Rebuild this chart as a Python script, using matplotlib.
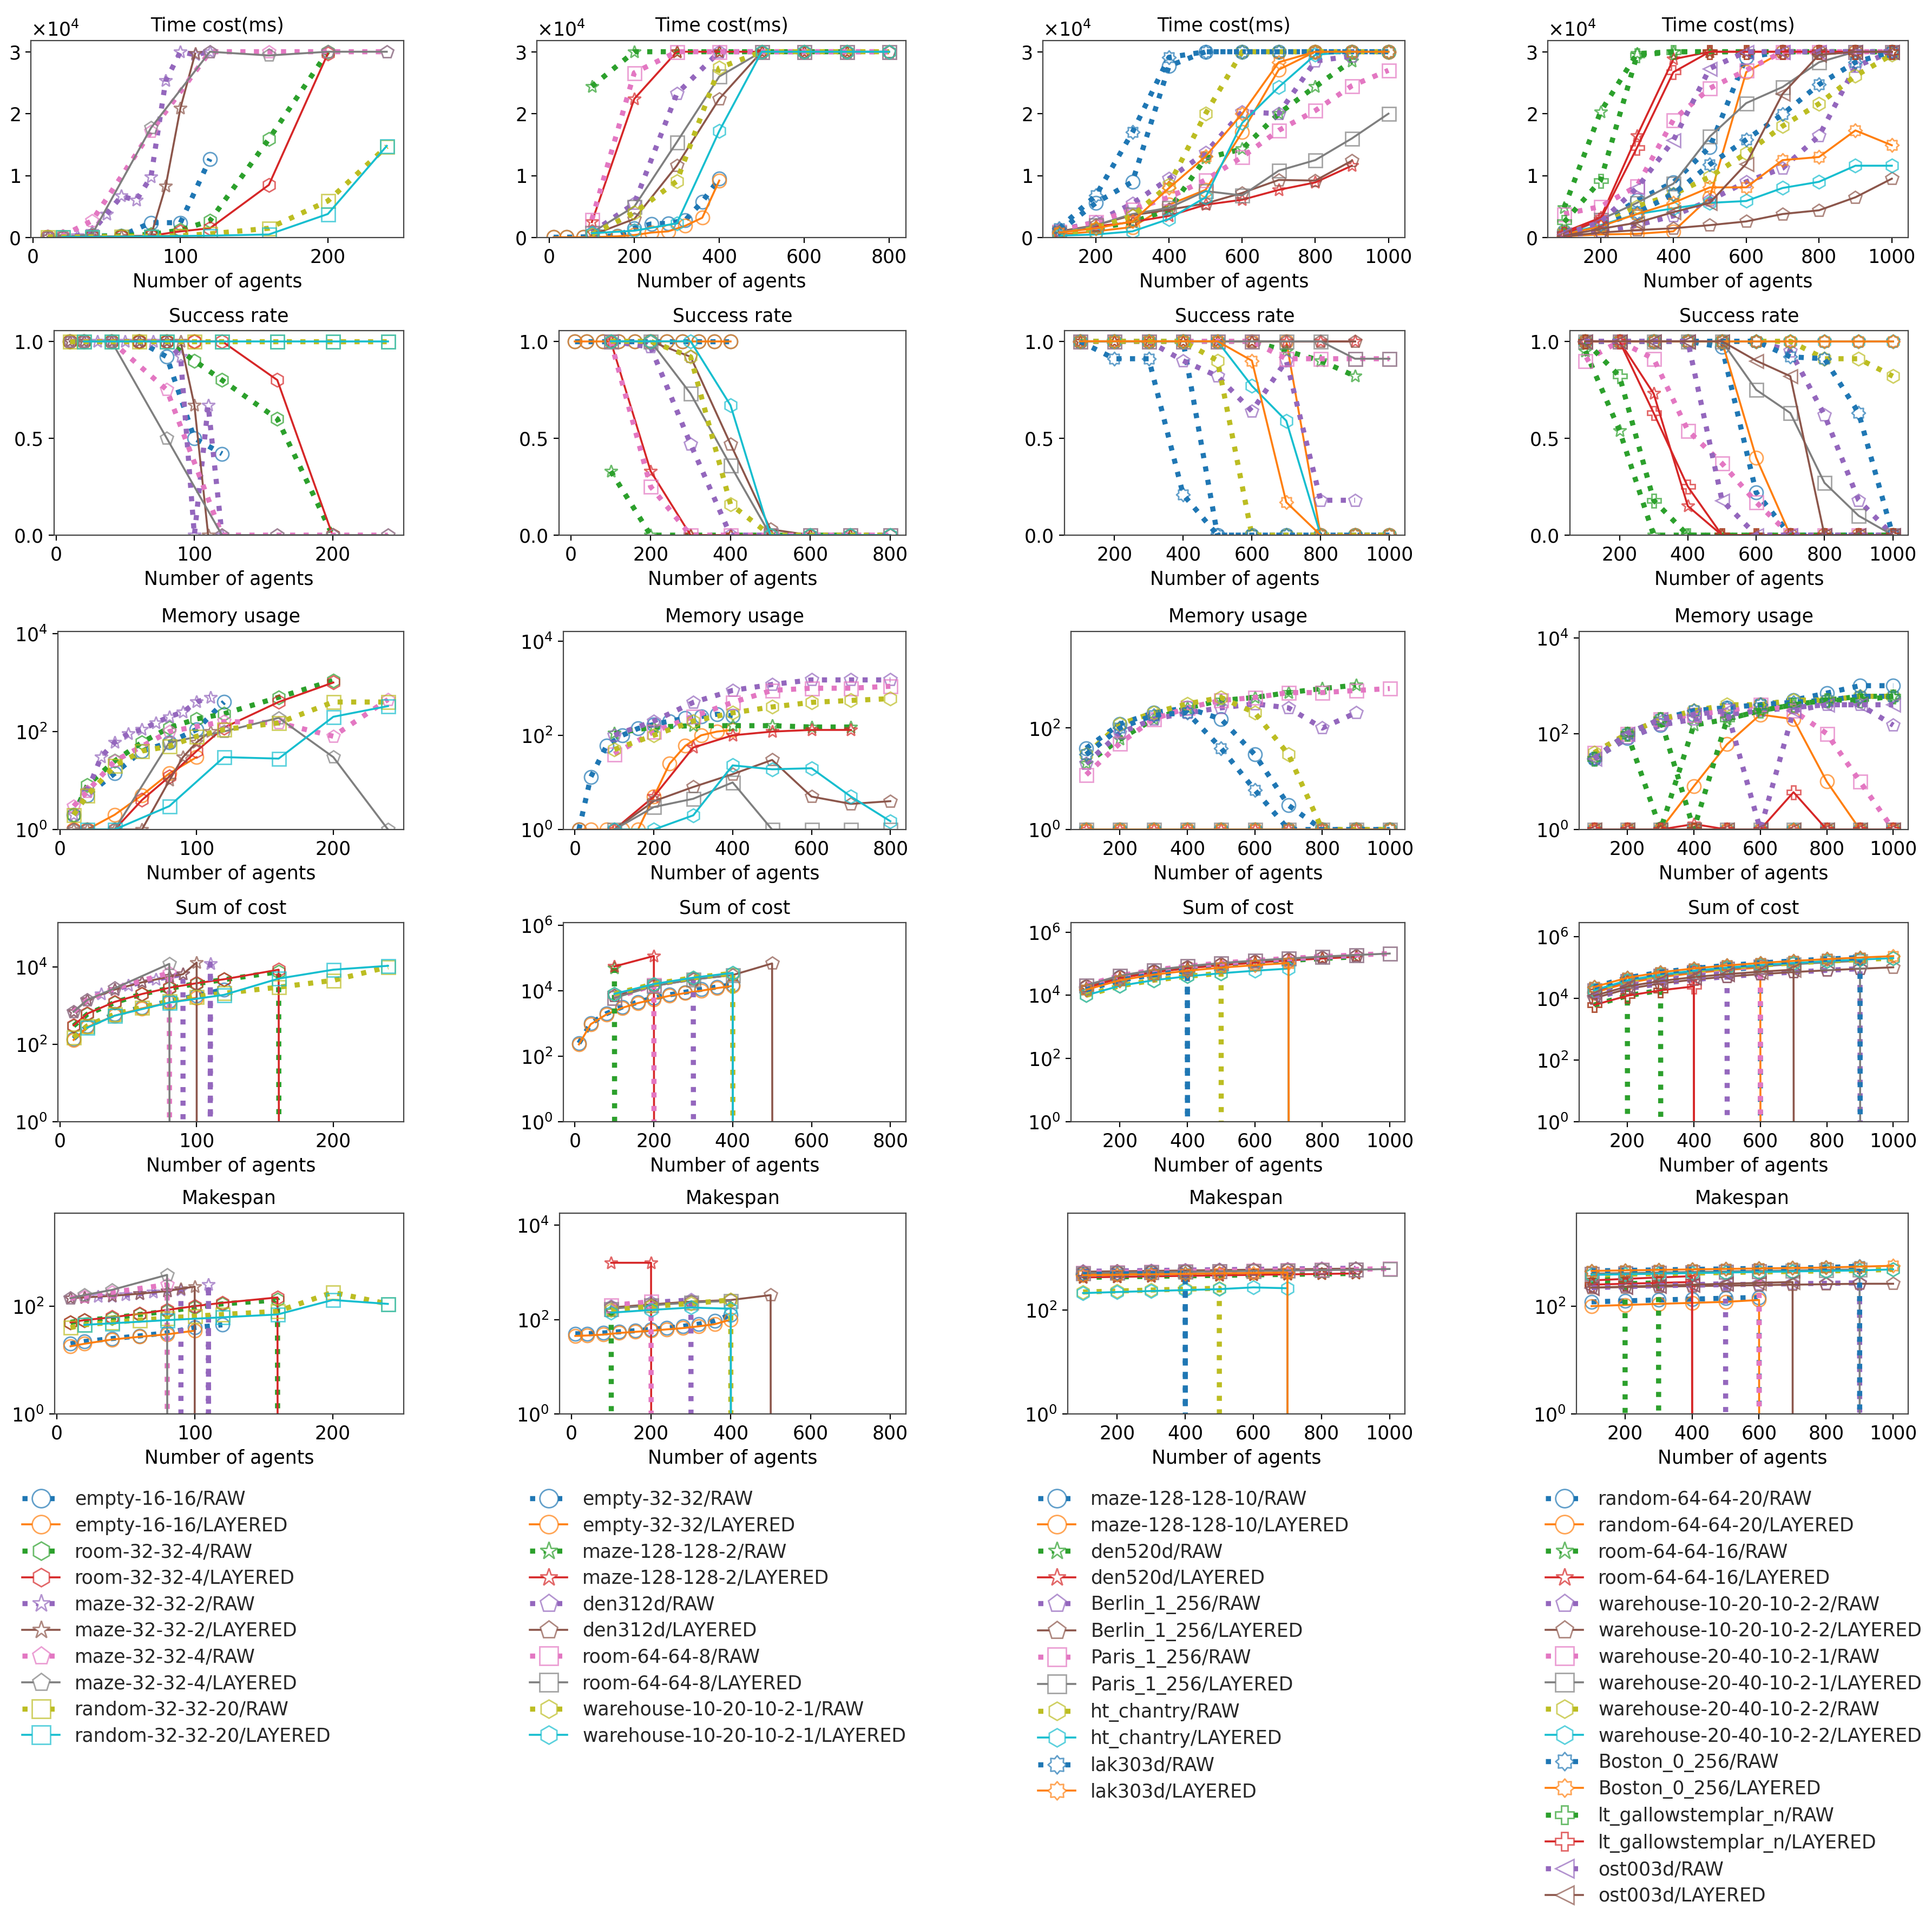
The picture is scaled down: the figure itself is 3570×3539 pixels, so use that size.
import matplotlib
matplotlib.use("Agg")
import matplotlib.pyplot as plt
from matplotlib.colors import to_rgba
from matplotlib.lines import Line2D
from matplotlib.path import Path
from matplotlib.ticker import NullLocator

N = None

# ---------------- column 1 ----------------
c1_maps = ["empty-16-16", "room-32-32-4", "maze-32-32-2", "maze-32-32-4", "random-32-32-20"]
c1_x = [10, 20, 30, 40, 50, 60, 70, 80, 90, 100, 110, 120, 160, 200, 240]
c1_time = [
    [100, 100, N, 200, N, 300, N, 2400, N, 2400, N, 12700, N, N, N],
    [100, 100, N, 150, N, 200, N, 250, N, 300, N, N, N, N, N],
    [100, 100, N, 200, N, 300, N, 500, N, 1200, N, 2700, 15900, 30000, N],
    [100, 100, N, 150, N, 200, N, 300, N, 1000, N, 1500, 8500, 29700, N],
    [100, 100, 300, 1000, 3800, 6700, 6000, 9800, 25300, 30000, 29500, 30000, N, N, N],
    [100, 100, N, 150, N, 200, N, 300, 8300, 20900, 29700, N, N, N, N],
    [200, 300, N, 2700, N, N, N, 17100, N, N, N, 30000, 30000, 30000, 30000],
    [100, 100, N, 500, N, N, N, 17700, N, N, N, 30000, 29400, 30000, 30000],
    [100, 100, N, 100, N, 150, N, 200, N, 300, N, 600, 1500, 5900, 14700],
    [N, 100, N, 100, N, N, N, 200, N, N, N, 300, 500, 3800, 14800],
]
c1_success = [
    [1, 1, N, 1, N, 1, N, .92, N, .5, N, .42, N, N, N],
    [1, 1, N, 1, N, 1, N, 1, N, 1, N, N, N, N, N],
    [1, 1, N, 1, N, 1, N, 1, N, .9, N, .8, .6, 0, N],
    [1, 1, N, 1, N, 1, N, 1, N, 1, N, 1, .8, 0, N],
    [1, 1, 1, 1, 1, 1, 1, 1, .92, 0, .67, 0, N, N, N],
    [1, 1, N, 1, N, 1, N, 1, 1, .67, 0, N, N, N, N],
    [1, 1, N, 1, N, N, N, .75, N, N, N, 0, 0, 0, 0],
    [1, 1, N, 1, N, N, N, .5, N, N, N, 0, 0, 0, 0],
    [1, 1, N, 1, N, 1, N, 1, N, 1, N, 1, 1, 1, 1],
    [N, 1, N, 1, N, N, N, 1, N, N, N, 1, 1, 1, 1],
]
c1_memory = [
    [2, 5, N, 14, N, 40, N, 60, N, 110, N, 400, N, N, N],
    [1, 1, N, 2, N, 5, N, 14, N, 30, N, N, N, N, N],
    [2, 8, N, 25, N, 60, N, 120, N, 180, N, 230, 500, 1100, N],
    [1, 1, N, 1, N, 4, N, 12, N, 40, N, 120, 400, 1000, N],
    [2, 6, 30, 60, 90, 110, 150, 200, 250, 400, 500, N, N, N, N],
    [1, 1, N, 1, N, 1, N, 10, 30, 60, 100, N, N, N, N],
    [3, 6, N, 25, N, N, N, 100, N, N, N, 160, 150, 80, 450],
    [1, 1, N, 1, N, N, N, 60, N, N, N, 100, 190, 30, 1],
    [2, 5, N, 20, N, 40, N, 50, N, 80, N, 110, 150, 400, 400],
    [N, 1, N, 1, N, N, N, 3, N, N, N, 30, 28, 200, 330],
]
c1_soc = [
    [140, 300, N, 600, N, 900, N, 1300, N, 1800, N, 2600, N, N, N],
    [130, 280, N, 550, N, 850, N, 1200, N, 1600, N, N, N, N, N],
    [300, 600, N, 1200, N, 2000, N, 2800, N, 3700, N, 4700, 7500, 0, N],
    [310, 620, N, 1250, N, 2000, N, 2900, N, 3800, N, 4800, 8500, 0, N],
    [700, 1400, 2000, 2600, 3300, 4000, 4800, 5600, 6500, 0, 12000, 0, N, N, N],
    [700, 1400, N, 2600, N, 4000, N, 5600, 6500, 13000, 0, N, N, N, N],
    [700, 1400, N, 2800, N, N, N, 7000, N, N, N, 0, 0, 0, 0],
    [700, 1400, N, 2800, N, N, N, 12000, N, N, N, 0, 0, 0, 0],
    [150, 300, N, 600, N, 900, N, 1300, N, 1700, N, 2100, 3000, 4500, 10000],
    [N, 270, N, 550, N, N, N, 1200, N, N, N, 1900, 5000, 8500, 10700],
]
c1_makespan = [
    [20, 22, N, 25, N, 28, N, 32, N, 40, N, 45, N, N, N],
    [18, 20, N, 24, N, 27, N, 30, N, 35, N, N, N, N, N],
    [50, 55, N, 60, N, 70, N, 80, N, 95, N, 110, 130, 0, N],
    [50, 55, N, 62, N, 72, N, 85, N, 100, N, 115, 145, 0, N],
    [140, 145, 150, 150, 160, 170, 180, 190, 200, 0, 250, 0, N, N, N],
    [140, 145, N, 155, N, 170, N, 190, 210, 230, 0, N, N, N, N],
    [140, 150, N, 180, N, N, N, 250, N, N, N, 0, 0, 0, 0],
    [140, 160, N, 200, N, N, N, 380, N, N, N, 0, 0, 0, 0],
    [40, 45, N, 50, N, 55, N, 60, N, 65, N, 70, 80, 180, 110],
    [N, 45, N, 48, N, N, N, 55, N, N, N, 62, 70, 130, 110],
]

# ---------------- column 2 ----------------
c2_maps = ["empty-32-32", "maze-128-128-2", "den312d", "room-64-64-8", "warehouse-10-20-10-2-1"]
c2_x = [10, 40, 80, 100, 120, 160, 200, 240, 280, 300, 320, 360, 400, 500, 600, 700, 800]
c2_time = [
    [50, 50, 100, N, 150, 300, 1500, 2200, 2300, N, 2800, 5800, 9500, N, N, N, N],
    [50, 50, 50, N, 100, 200, 400, 800, 1000, N, 1900, 3200, 9200, N, N, N, N],
    [N, N, N, 24400, N, N, 30000, N, N, 30000, N, N, 30000, 30000, 30000, 30000, N],
    [N, N, N, 2500, N, N, 22400, N, N, 30000, N, N, 30000, 30000, 30000, 30000, N],
    [N, N, N, 800, N, N, 5500, N, N, 23200, N, N, 30000, 30000, 30000, 30000, 30000],
    [N, N, N, 400, N, N, 3000, N, N, 11600, N, N, 22400, 30000, 30000, 30000, 30000],
    [N, N, N, 2900, N, N, 26600, N, N, 30000, N, N, 30000, 30000, 30000, 30000, 30000],
    [N, N, N, 800, N, N, 5000, N, N, 15400, N, N, 26000, 30000, 30000, 30000, 30000],
    [N, N, N, 500, N, N, 4000, N, N, 9100, N, N, 27400, 30000, 30000, 30000, 30000],
    [N, N, N, 700, N, N, 1100, N, N, 2300, N, N, 17200, 30000, 30000, 30000, 30000],
]
c2_success = [
    [1, 1, 1, N, 1, 1, 1, 1, 1, N, 1, 1, 1, N, N, N, N],
    [1, 1, 1, N, 1, 1, 1, 1, 1, N, 1, 1, 1, N, N, N, N],
    [N, N, N, .33, N, N, 0, N, N, 0, N, N, 0, 0, 0, 0, N],
    [N, N, N, 1, N, N, .33, N, N, 0, N, N, 0, 0, 0, 0, N],
    [N, N, N, 1, N, N, .97, N, N, .47, N, N, 0, 0, 0, 0, 0],
    [N, N, N, 1, N, N, 1, N, N, .92, N, N, .47, .03, 0, 0, 0],
    [N, N, N, 1, N, N, .25, N, N, 0, N, N, 0, 0, 0, 0, 0],
    [N, N, N, 1, N, N, 1, N, N, .73, N, N, .36, 0, 0, 0, 0],
    [N, N, N, 1, N, N, 1, N, N, .92, N, N, .16, 0, 0, 0, 0],
    [N, N, N, 1, N, N, 1, N, N, 1, N, N, .67, 0, 0, 0, 0],
]
c2_memory = [
    [1, 13, 60, N, 100, 140, 170, 200, 230, N, 250, 280, 260, N, N, N, N],
    [1, 1, 1, N, 1, 1, 5, 25, 60, N, 100, 120, 130, N, N, N, N],
    [N, N, N, 110, N, N, 150, N, N, 160, N, N, 160, 160, 150, 150, N],
    [N, N, N, 1, N, N, 5, N, N, 55, N, N, 100, 120, 130, 130, N],
    [N, N, N, 100, N, N, 200, N, N, 500, N, N, 900, 1200, 1500, 1500, 1500],
    [N, N, N, 1, N, N, 4, N, N, 8, N, N, 15, 30, 5, 3.5, 4],
    [N, N, N, 40, N, N, 120, N, N, 250, N, N, 500, 900, 1000, 1000, 1100],
    [N, N, N, 1, N, N, 3, N, N, 4.5, N, N, 10, 1, 1, 1, 1],
    [N, N, N, 50, N, N, 100, N, N, 200, N, N, 300, 400, 500, 550, 600],
    [N, N, N, 1, N, N, 1, N, N, 2, N, N, 23, 19, 20, 5, 1.5],
]
c2_soc = [
    [250, 1000, 2000, N, 3200, 4500, 6000, 7500, 9000, N, 11000, 13000, 15000, N, N, N, N],
    [230, 950, 1900, N, 3000, 4200, 5500, 7000, 8500, N, 10000, 12000, 14000, N, N, N, N],
    [N, N, N, 50000, N, N, 0, N, N, 0, N, N, 0, 0, 0, 0, N],
    [N, N, N, 55000, N, N, 115000, N, N, 0, N, N, 0, 0, 0, 0, N],
    [N, N, N, 7000, N, N, 15000, N, N, 24000, N, N, 0, 0, 0, 0, 0],
    [N, N, N, 7000, N, N, 14000, N, N, 22000, N, N, 30000, 68000, 0, 0, 0],
    [N, N, N, 6000, N, N, 15000, N, N, 0, N, N, 0, 0, 0, 0, 0],
    [N, N, N, 6000, N, N, 14000, N, N, 22000, N, N, 30000, 0, 0, 0, 0],
    [N, N, N, 8000, N, N, 16000, N, N, 25000, N, N, 34000, 0, 0, 0, 0],
    [N, N, N, 8000, N, N, 16000, N, N, 25000, N, N, 35000, 0, 0, 0, 0],
]
c2_makespan = [
    [50, 50, 52, N, 55, 58, 62, 66, 72, N, 80, 95, 125, N, N, N, N],
    [45, 46, 48, N, 52, 55, 58, 62, 66, N, 72, 80, 100, N, N, N, N],
    [N, N, N, 150, N, N, 0, N, N, 0, N, N, 0, 0, 0, 0, N],
    [N, N, N, 1600, N, N, 1600, N, N, 0, N, N, 0, 0, 0, 0, N],
    [N, N, N, 190, N, N, 230, N, N, 260, N, N, 0, 0, 0, 0, 0],
    [N, N, N, 180, N, N, 210, N, N, 240, N, N, 260, 330, 0, 0, 0],
    [N, N, N, 200, N, N, 240, N, N, 0, N, N, 0, 0, 0, 0, 0],
    [N, N, N, 170, N, N, 200, N, N, 230, N, N, 250, 0, 0, 0, 0],
    [N, N, N, 160, N, N, 190, N, N, 220, N, N, 260, 0, 0, 0, 0],
    [N, N, N, 140, N, N, 160, N, N, 180, N, N, 170, 0, 0, 0, 0],
]

# ---------------- column 3 ----------------
c3_maps = ["maze-128-128-10", "den520d", "Berlin_1_256", "Paris_1_256", "ht_chantry", "lak303d"]
c3_x = [100, 200, 300, 400, 500, 600, 700, 800, 900, 1000]
c3_time = [
    [1000, 5600, 9000, 27700, 30000, 30000, 30000, 30000, 30000, 30000],
    [500, 1000, 1700, 5300, 7700, 17000, 27100, 30000, 30000, 30000],
    [500, 1500, 2500, 4500, 12800, 14300, 20000, 24400, 28500, N],
    [1000, 1800, 2500, 3500, 5300, 6100, 7700, 8900, 11600, N],
    [1200, 2500, 5500, 9500, 13700, 20300, 20000, 28500, 29300, N],
    [1000, 2000, 3600, 4500, 5500, 7200, 9300, 9200, 12400, N],
    [1000, 2500, 4500, 6500, 9300, 13000, 17300, 20500, 24500, 27000],
    [800, 2000, 3800, 4800, 7500, 6800, 10800, 12500, 16000, 20000],
    [500, 1500, 3500, 8500, 20000, 30000, 30000, 30000, 30000, 30000],
    [300, 500, 1000, 3000, 6500, 18500, 24300, 29500, 30000, 30000],
    [1500, 6800, 17000, 29100, 30000, 30000, 30000, 30000, 30000, 30000],
    [800, 1500, 2600, 8000, 13100, 20000, 28300, 30000, 30000, 30000],
]
c3_success = [
    [1, 1, 1, 1, 0, 0, 0, 0, 0, 0],
    [1, 1, 1, 1, 1, 1, 1, 0, 0, 0],
    [1, 1, 1, 1, 1, 1, .95, .9, .82, N],
    [1, 1, 1, 1, 1, 1, 1, 1, 1, N],
    [1, 1, 1, .9, .82, .64, .9, .18, .18, N],
    [1, 1, 1, 1, 1, 1, 1, 1, 1, N],
    [1, 1, 1, 1, 1, 1, .91, .91, .91, .91],
    [1, 1, 1, 1, 1, 1, 1, 1, .91, .91],
    [1, 1, 1, 1, .9, 0, 0, 0, 0, 0],
    [1, 1, 1, 1, 1, .77, .59, 0, 0, 0],
    [1, .91, .91, .21, 0, 0, 0, 0, 0, 0],
    [1, 1, 1, 1, 1, .9, .17, 0, 0, 0],
]
c3_memory = [
    [40, 120, 200, 250, 150, 30, 3, 1, 1, 1],
    [1, 1, 1, 1, 1, 1, 1, 1, 1, 1],
    [20, 60, 150, 250, 350, 400, 500, 600, 700, N],
    [1, 1, 1, 1, 1, 1, 1, 1, 1, N],
    [20, 80, 150, 200, 250, 300, 250, 100, 200, N],
    [1, 1, 1, 1, 1, 1, 1, 1, 1, N],
    [12, 50, 150, 250, 350, 400, 500, 500, 550, 600],
    [1, 1, 1, 1, 1, 1, 1, 1, 1, 1],
    [30, 120, 200, 300, 400, 200, 30, 1, 1, 1],
    [1, 1, 1, 1, 1, 1, 1, 1, 1, 1],
    [30, 100, 180, 200, 40, 6, 1, 1, 1, 1],
    [1, 1, 1, 1, 1, 1, 1, 1, 1, 1],
]
c3_soc = [
    [18000, 37000, 55000, 73000, 0, 0, 0, 0, 0, 0],
    [18000, 36000, 54000, 72000, 90000, 108000, 126000, 0, 0, 0],
    [17000, 35000, 53000, 72000, 90000, 108000, 127000, 146000, 165000, N],
    [17000, 35000, 53000, 72000, 90000, 108000, 127000, 146000, 165000, N],
    [20000, 40000, 60000, 80000, 100000, 120000, 140000, 160000, 180000, N],
    [20000, 40000, 60000, 80000, 100000, 120000, 140000, 160000, 180000, N],
    [21000, 42000, 63000, 84000, 105000, 126000, 147000, 168000, 189000, 210000],
    [21000, 42000, 63000, 84000, 105000, 126000, 147000, 168000, 189000, 210000],
    [10000, 20000, 30000, 40000, 50000, 0, 0, 0, 0, 0],
    [10000, 20000, 30000, 40000, 50000, 60000, 70000, 0, 0, 0],
    [15000, 30000, 45000, 60000, 0, 0, 0, 0, 0, 0],
    [15000, 30000, 45000, 60000, 75000, 90000, 105000, 0, 0, 0],
]
c3_makespan = [
    [500, 520, 540, 560, 0, 0, 0, 0, 0, 0],
    [480, 500, 520, 540, 560, 570, 580, 0, 0, 0],
    [420, 430, 440, 450, 460, 470, 480, 490, 500, N],
    [420, 430, 440, 450, 460, 470, 480, 490, 500, N],
    [550, 560, 570, 580, 590, 600, 610, 620, 630, N],
    [540, 550, 560, 570, 580, 590, 600, 610, 620, N],
    [520, 530, 540, 550, 560, 570, 580, 590, 600, 620],
    [510, 520, 530, 540, 550, 560, 570, 580, 590, 610],
    [220, 230, 240, 250, 260, 0, 0, 0, 0, 0],
    [210, 220, 230, 240, 250, 270, 260, 0, 0, 0],
    [480, 490, 500, 510, 0, 0, 0, 0, 0, 0],
    [460, 470, 480, 490, 500, 510, 520, 0, 0, 0],
]

# ---------------- column 4 ----------------
c4_maps = ["random-64-64-20", "room-64-64-16", "warehouse-10-20-10-2-2", "warehouse-20-40-10-2-1",
           "warehouse-20-40-10-2-2", "Boston_0_256", "lt_gallowstemplar_n", "ost003d"]
c4_x = [100, 200, 300, 400, 500, 600, 700, 800, 900, 1000]
c4_time = [
    [1000, 2300, 6000, 8900, 14600, 29100, 30000, 30000, 30000, 30000],
    [200, 500, 600, 1000, 6500, 26700, 30000, 30000, 30000, 30000],
    [4800, 20300, 29700, 30000, 30000, 30000, 30000, 30000, 30000, 30000],
    [900, 3200, 16400, 28800, 30000, 30000, 30000, 30000, 30000, 30000],
    [300, 1000, 2000, 3500, 6000, 9000, 11200, 16400, 27600, 30000],
    [200, 800, 1200, 1500, 2000, 2600, 3800, 4400, 6500, 9500],
    [3800, 5000, 8300, 19000, 24100, 27000, 30000, 30000, 30000, 30000],
    [300, 2900, 5600, 8700, 16300, 21700, 24300, 28300, 30000, 30000],
    [1000, 2000, 5000, 7000, 9800, 13600, 18000, 21600, 26100, 29500],
    [500, 2000, 3800, 4700, 5600, 5900, 8000, 9000, 11600, 11600],
    [800, 2000, 4000, 7000, 11800, 15800, 19900, 24700, 28300, 30000],
    [500, 1800, 3800, 5600, 8100, 8100, 12500, 13000, 17300, 14900],
    [2500, 9200, 29400, 30000, 30000, 30000, 30000, 30000, 30000, 30000],
    [600, 2900, 14500, 26700, 30000, 30000, 30000, 30000, 30000, 30000],
    [500, 2500, 8000, 15700, 27300, 30000, 30000, 30000, 30000, 30000],
    [300, 1400, 2400, 4100, 5600, 11900, 23200, 29500, 30000, 30000],
]
c4_success = [
    [1, 1, 1, 1, .97, .22, 0, 0, 0, 0],
    [1, 1, 1, 1, 1, .4, 0, 0, 0, 0],
    [.95, .54, 0, 0, 0, 0, 0, 0, 0, 0],
    [1, 1, .73, .15, 0, 0, 0, 0, 0, 0],
    [1, 1, 1, 1, 1, 1, .95, .62, .18, 0],
    [1, 1, 1, 1, 1, 1, 1, 1, 1, 1],
    [.9, 1, .91, .54, .37, .17, 0, 0, 0, 0],
    [1, 1, 1, 1, 1, .75, .63, .27, .1, 0],
    [1, 1, 1, 1, 1, 1, 1, .91, .91, .82],
    [1, 1, 1, 1, 1, 1, 1, 1, 1, 1],
    [1, 1, 1, 1, 1, 1, .92, .91, .63, 0],
    [1, 1, 1, 1, 1, 1, 1, 1, 1, 1],
    [1, .82, .18, 0, 0, 0, 0, 0, 0, 0],
    [1, 1, .63, .25, 0, 0, 0, 0, 0, 0],
    [1, 1, 1, 1, .18, 0, 0, 0, 0, 0],
    [1, 1, 1, 1, 1, .9, .82, 0, 0, 0],
]
c4_memory = [
    [30, 80, 150, 250, 350, 400, 500, 700, 1000, 1000],
    [1, 1, 1, 8, 60, 250, 200, 10, 1, 1],
    [30, 100, 1, 150, 200, 300, 400, 500, 600, 600],
    [1, 1, 1, 1.3, 1, 1, 1, 1, 1, 1],
    [30, 80, 150, 200, 250, 300, 350, 400, 400, 150],
    [1, 1, 1, 1, 1, 1, 1, 1, 1, 1],
    [40, 100, 200, 250, 300, 400, 300, 100, 10, 1],
    [1, 1, 1, 1, 1, 1, 1, 1, 1, 1],
    [40, 100, 200, 300, 400, 400, 500, 500, 600, 600],
    [1, 1, 1, 1, 1, 1, 1, 1, 1, 1],
    [30, 100, 200, 300, 350, 400, 450, 500, 600, 600],
    [1, 1, 1, 1, 1, 1, 1, 1, 1, 1],
    [30, 100, 200, 1, 200, 300, 400, 500, 500, 600],
    [1, 1, 1, 1, 1, 1, 6, 1, 1, 1],
    [30, 100, 200, 250, 300, 1, 300, 400, 400, 400],
    [1, 1, 1, 1, 1, 1, 1, 1, 1, 1],
]
c4_soc = [
    [16000, 33000, 50000, 68000, 85000, 100000, 0, 0, 0, 0],
    [15000, 31000, 48000, 65000, 82000, 98000, 0, 0, 0, 0],
    [17000, 36000, 0, 0, 0, 0, 0, 0, 0, 0],
    [17000, 36000, 56000, 76000, 0, 0, 0, 0, 0, 0],
    [10000, 20000, 30000, 40000, 50000, 60000, 70000, 80000, 90000, 0],
    [10000, 20000, 30000, 40000, 50000, 60000, 70000, 80000, 90000, 100000],
    [18000, 36000, 54000, 72000, 90000, 108000, 0, 0, 0, 0],
    [18000, 36000, 54000, 72000, 90000, 108000, 126000, 144000, 162000, 0],
    [18000, 38000, 58000, 78000, 98000, 118000, 138000, 158000, 178000, 198000],
    [18000, 38000, 58000, 78000, 98000, 118000, 138000, 158000, 178000, 198000],
    [23000, 46000, 69000, 92000, 115000, 138000, 161000, 184000, 207000, 0],
    [23000, 46000, 69000, 92000, 115000, 138000, 161000, 184000, 207000, 230000],
    [6000, 12000, 18000, 0, 0, 0, 0, 0, 0, 0],
    [6000, 12000, 18000, 24000, 0, 0, 0, 0, 0, 0],
    [12000, 24000, 36000, 48000, 60000, 0, 0, 0, 0, 0],
    [12000, 24000, 36000, 48000, 60000, 72000, 84000, 0, 0, 0],
]
c4_makespan = [
    [120, 125, 130, 135, 140, 145, 0, 0, 0, 0],
    [100, 105, 110, 115, 120, 130, 0, 0, 0, 0],
    [300, 320, 0, 0, 0, 0, 0, 0, 0, 0],
    [300, 320, 340, 360, 0, 0, 0, 0, 0, 0],
    [230, 235, 240, 245, 250, 255, 260, 265, 270, 0],
    [220, 225, 230, 235, 240, 245, 250, 255, 260, 260],
    [400, 410, 420, 430, 440, 450, 0, 0, 0, 0],
    [400, 410, 420, 430, 440, 450, 460, 470, 480, 0],
    [380, 390, 400, 410, 420, 430, 440, 450, 460, 480],
    [380, 390, 400, 410, 420, 430, 440, 450, 460, 480],
    [450, 460, 470, 480, 490, 500, 510, 520, 550, 0],
    [450, 460, 470, 480, 490, 500, 510, 520, 540, 560],
    [250, 260, 270, 0, 0, 0, 0, 0, 0, 0],
    [250, 260, 270, 280, 0, 0, 0, 0, 0, 0],
    [220, 230, 240, 250, 260, 0, 0, 0, 0, 0],
    [220, 230, 240, 250, 260, 270, 280, 0, 0, 0],
]

# ---------------- markers (one per map) ----------------
GEAR = Path.unit_regular_star(8, innerCircle=0.72)
c1_markers = ["o", "h", "*", "p", "s"]
c2_markers = ["o", "*", "p", "s", "h"]
c3_markers = ["o", "*", "p", "s", "h", GEAR]
c4_markers = ["o", "*", "p", "s", "h", GEAR, "P", "<"]

# ---------------- layout (pixels of the 3570x3539 canvas) ----------------
W, H = 3570, 3539
col_right = [746, 1674, 2596, 3526]
row_left = [[57, 992, 1927, 2860], [100, 1033, 1967, 2901], [107, 1041, 1979, 2918],
            [107, 1041, 1979, 2918], [101, 1034, 1973, 2913]]
row_top = [75, 611, 1167, 1705, 2242]
row_bottom = [439, 989, 1533, 2073, 2613]
legend_left = [41, 979, 1918, 2856]
legend_top = 2754

titles = ["Time cost(ms)", "Success rate", "Memory usage", "Sum of cost", "Makespan"]
xlims = [(-1.5, 251.5), (-29.5, 839.5), (55, 1045), (55, 1045)]
xticks = [[0, 100, 200], [0, 200, 400, 600, 800], [200, 400, 600, 800, 1000],
          [200, 400, 600, 800, 1000]]
mem_top = [1.1e4, 1.6e4, 8e3, 1.35e4]
soc_top = [1.4e5, 1.2e6, 2e6, 2.8e6]
mks_top = [5.3e3, 1.8e4, 7.2e3, 5.3e3]

COLORS = plt.cm.tab10.colors

plt.rcParams["font.family"] = ["DejaVu Sans"]
plt.rcParams["font.size"] = 12.5
plt.rcParams["axes.edgecolor"] = "#444444"

fig = plt.figure(figsize=(W / 200, H / 200), dpi=200)

columns = [
    (c1_maps, c1_markers, c1_x, [c1_time, c1_success, c1_memory, c1_soc, c1_makespan]),
    (c2_maps, c2_markers, c2_x, [c2_time, c2_success, c2_memory, c2_soc, c2_makespan]),
    (c3_maps, c3_markers, c3_x, [c3_time, c3_success, c3_memory, c3_soc, c3_makespan]),
    (c4_maps, c4_markers, c4_x, [c4_time, c4_success, c4_memory, c4_soc, c4_makespan]),
]


def style_of(k, markers):
    color = COLORS[k % 10]
    raw = k % 2 == 0
    return dict(color=color, ls=":" if raw else "-", lw=3.4 if raw else 1.3,
                marker=markers[k // 2], mec=to_rgba(color, 0.7), mew=1.0)


for c, (maps, markers, xs, metrics) in enumerate(columns):
    for r, series in enumerate(metrics):
        l, rr = row_left[r][c], col_right[c]
        t, b = row_top[r], row_bottom[r]
        ax = fig.add_axes([l / W, 1 - b / H, (rr - l) / W, (b - t) / H])
        for k, ys in enumerate(series):
            px = [x for x, y in zip(xs, ys) if y is not None]
            py = [y for y in ys if y is not None]
            ax.plot(px, py, ms=9, mfc="none", **style_of(k, markers))
        ax.set_title(titles[r], fontsize=12.5)
        ax.set_xlabel("Number of agents")
        ax.set_xlim(*xlims[c])
        ax.set_xticks(xticks[c])
        if r == 0:
            ax.set_ylim(0, 31800)
            ax.set_yticks([0, 10000, 20000, 30000])
            ax.ticklabel_format(axis="y", style="sci", scilimits=(0, 0), useMathText=True)
        elif r == 1:
            ax.set_ylim(0, 1.055)
            ax.set_yticks([0, 0.5, 1.0])
        else:
            ax.set_yscale("log")
            top = [mem_top, soc_top, mks_top][r - 2][c]
            ax.set_ylim(1, top)
            ax.set_yticks([v for v in [1, 1e2, 1e4, 1e6] if v <= top])
            ax.yaxis.set_minor_locator(NullLocator())

    handles = []
    labels = []
    for k in range(2 * len(maps)):
        handles.append(Line2D([], [], ms=9, mfc="white", **style_of(k, markers)))
        labels.append(maps[k // 2] + ("/RAW" if k % 2 == 0 else "/LAYERED"))
    fig.legend(handles, labels, loc="upper left", frameon=False, borderpad=0,
               borderaxespad=0, labelspacing=0.42, markerscale=1.35, fontsize=12.5,
               labelcolor="#262626",
               bbox_to_anchor=(legend_left[c] / W, 1 - legend_top / H))

fig.savefig("out.png", dpi=200)
